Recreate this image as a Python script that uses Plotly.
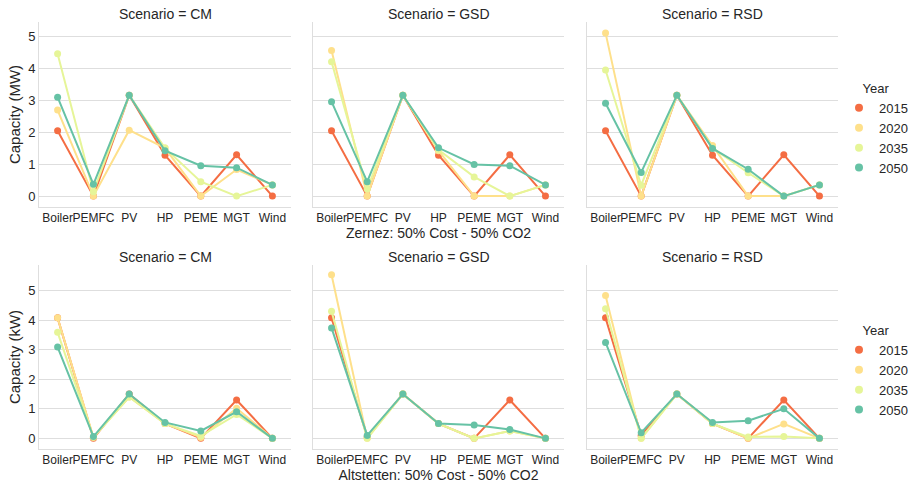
import plotly.graph_objects as go

techs = ["Boiler", "PEMFC", "PV", "HP", "PEME", "MGT", "Wind"]
years = ["2015", "2020", "2035", "2050"]
scenarios = ["CM", "GSD", "RSD"]
colors = ["#f46d43", "#fee08b", "#e6f598", "#66c2a5"]

# Zernez (MW)
zernez_CM = {
    "2015": [2.04, 0.0, 3.15, 1.28, 0.0, 1.29, 0.0],
    "2020": [2.69, 0.0, 2.06, 1.50, 0.0, 0.83, 0.35],
    "2035": [4.45, 0.14, 3.15, 1.50, 0.45, 0.0, 0.35],
    "2050": [3.09, 0.37, 3.15, 1.42, 0.95, 0.89, 0.35],
}
zernez_GSD = {
    "2015": [2.04, 0.0, 3.15, 1.28, 0.0, 1.29, 0.0],
    "2020": [4.55, 0.0, 3.15, 1.42, 0.0, 0.0, 0.35],
    "2035": [4.20, 0.22, 3.15, 1.45, 0.60, 0.0, 0.35],
    "2050": [2.95, 0.45, 3.15, 1.51, 0.99, 0.95, 0.35],
}
zernez_RSD = {
    "2015": [2.04, 0.0, 3.15, 1.28, 0.0, 1.29, 0.0],
    "2020": [5.10, 0.0, 3.15, 1.58, 0.0, 0.0, 0.35],
    "2035": [3.94, 0.34, 3.15, 1.50, 0.73, 0.0, 0.35],
    "2050": [2.90, 0.74, 3.15, 1.49, 0.84, 0.0, 0.35],
}
# Altstetten (kW)
alt_CM = {
    "2015": [4.08, 0.0, 1.50, 0.50, 0.0, 1.30, 0.0],
    "2020": [4.08, 0.04, 1.40, 0.50, 0.03, 1.02, 0.0],
    "2035": [3.59, 0.04, 1.40, 0.50, 0.08, 0.81, 0.0],
    "2050": [3.09, 0.06, 1.50, 0.54, 0.25, 0.90, 0.0],
}
alt_GSD = {
    "2015": [4.08, 0.05, 1.50, 0.50, 0.0, 1.30, 0.0],
    "2020": [5.54, 0.0, 1.50, 0.50, 0.0, 0.25, 0.0],
    "2035": [4.30, 0.0, 1.50, 0.50, 0.0, 0.25, 0.0],
    "2050": [3.74, 0.10, 1.50, 0.50, 0.45, 0.30, 0.0],
}
alt_RSD = {
    "2015": [4.08, 0.10, 1.50, 0.50, 0.0, 1.30, 0.0],
    "2020": [4.84, 0.0, 1.50, 0.50, 0.0, 0.49, 0.0],
    "2035": [4.39, 0.0, 1.50, 0.50, 0.05, 0.06, 0.0],
    "2050": [3.25, 0.19, 1.50, 0.54, 0.60, 1.00, 0.0],
}

rows = [
    {"data": [zernez_CM, zernez_GSD, zernez_RSD], "ylabel": "Capacity (MW)",
     "xlabel": "Zernez: 50% Cost - 50% CO2", "yrange": [-0.34, 5.44]},
    {"data": [alt_CM, alt_GSD, alt_RSD], "ylabel": "Capacity (kW)",
     "xlabel": "Altstetten: 50% Cost - 50% CO2", "yrange": [-0.36, 5.87]},
]

W, H = 909, 483
xdom_px = [(39, 291), (313, 564), (587, 838)]
ydom_px = [(22, 207), (265, 449)]
FONT = "Liberation Sans, Arial, sans-serif"
TXT = "#262626"
GRID = "#dedede"
TICK = 12
LAB = 14

fig = go.Figure()
layout = {}
annotations = []
for r, row in enumerate(rows):
    y0, y1 = ydom_px[r]
    for c, scen in enumerate(scenarios):
        idx = r * 3 + c + 1
        xa = "xaxis" if idx == 1 else f"xaxis{idx}"
        ya = "yaxis" if idx == 1 else f"yaxis{idx}"
        xr = "x" if idx == 1 else f"x{idx}"
        yr = "y" if idx == 1 else f"y{idx}"
        x0, x1 = xdom_px[c]
        layout[xa] = dict(
            domain=[x0 / W, x1 / W], anchor=yr, type="linear",
            range=[-0.52, 6.52], tickmode="array",
            tickvals=list(range(len(techs))), ticktext=techs, tickangle=0,
            showgrid=False, zeroline=False, showline=True, linecolor=GRID,
            linewidth=1, ticks="", tickfont=dict(size=TICK, color=TXT, family=FONT),
        )
        layout[ya] = dict(
            domain=[1 - y1 / H, 1 - y0 / H], anchor=xr, range=row["yrange"],
            tickvals=[0, 1, 2, 3, 4, 5], showgrid=True, gridcolor=GRID,
            gridwidth=1, zeroline=False, showline=True, linecolor=GRID,
            linewidth=1, ticks="", showticklabels=(c == 0),
            tickfont=dict(size=13, color=TXT, family=FONT),
        )
        if c == 0:
            layout[ya]["title"] = dict(text=row["ylabel"], standoff=3,
                                       font=dict(size=15, color=TXT, family=FONT))
        if c == 1:
            layout[xa]["title"] = dict(text=row["xlabel"], standoff=1,
                                       font=dict(size=LAB, color=TXT, family=FONT))
        annotations.append(dict(
            text=f"Scenario = {scen}", xref="paper", yref="paper",
            x=(x0 + x1) / 2 / W, y=1 - (y0 - 8) / H, xanchor="center",
            yanchor="middle", showarrow=False,
            font=dict(size=14, color=TXT, family=FONT)))
        data = row["data"][c]
        for k, yr_ in enumerate(years):
            fig.add_trace(go.Scatter(
                x=list(range(len(techs))), y=data[yr_], mode="lines+markers",
                line=dict(color=colors[k], width=2),
                marker=dict(color=colors[k], size=7),
                xaxis=xr, yaxis=yr, showlegend=False, hoverinfo="skip"))
    # legend proxies
    for k, yr_ in enumerate(years):
        fig.add_trace(go.Scatter(
            x=[None], y=[None], mode="markers", name=yr_,
            marker=dict(color=colors[k], size=8),
            legend="legend" if r == 0 else "legend2", showlegend=True))

leg_common = dict(
    xanchor="left", yanchor="top", bgcolor="rgba(0,0,0,0)",
    font=dict(size=13, color=TXT, family=FONT), itemwidth=30,
    title=dict(text="Year", side="top center", font=dict(size=13, color=TXT, family=FONT)),
)
layout["legend"] = dict(x=839 / W, y=1 - 76 / H, **leg_common)
layout["legend2"] = dict(x=839 / W, y=1 - 318 / H, **leg_common)

fig.update_layout(
    width=W, height=H, margin=dict(l=0, r=0, t=0, b=0, autoexpand=False),
    paper_bgcolor="white", plot_bgcolor="white",
    annotations=annotations, **layout)

fig.write_html("out.html")
